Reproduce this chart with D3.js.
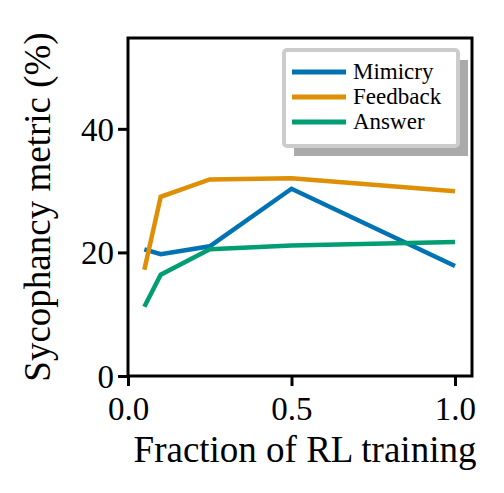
<!DOCTYPE html><html><head><meta charset="utf-8">
<script src="https://cdn.jsdelivr.net/npm/d3@7"></script>
<style>body{margin:0;background:#fff}text{font-family:"Liberation Serif",serif}</style></head><body>
<svg id="c" width="504" height="493"></svg>
<script>
const xs=[0.05,0.1,0.25,0.5,1.0];
const mimicry=[20.5,19.7,21.0,30.3,17.8];
const feedback=[17.2,29.0,31.8,32.0,29.9];
const answer=[11.2,16.4,20.5,21.1,21.7];
const names=["Mimicry","Feedback","Answer"];
const colors=["#0173b2","#de8f05","#029e73"];
const xTicks=[0,0.5,1.0], yTicks=[0,20,40];
const svg=d3.select("#c");
const L=128,R=472,T=38,B=376;
const x=d3.scaleLinear().domain([0,1.052]).range([L,R]);
const y=d3.scaleLinear().domain([0,54.7]).range([B,T]);
const g=svg.append("g");
const line=d3.line().x((d,i)=>x(xs[i])).y(d=>y(d));
[mimicry,feedback,answer].forEach((s,k)=>g.append("path").attr("d",line(s)).attr("fill","none").attr("stroke",colors[k]).attr("stroke-width",4.5));
g.append("rect").attr("x",L).attr("y",T).attr("width",R-L).attr("height",B-T).attr("fill","none").attr("stroke","#000").attr("stroke-width",3);
const xa=svg.append("g").attr("transform",`translate(0,${B})`).call(d3.axisBottom(x).tickValues(xTicks).tickFormat(d3.format(".1f")).tickSize(10).tickSizeOuter(0));
const ya=svg.append("g").attr("transform",`translate(${L},0)`).call(d3.axisLeft(y).tickValues(yTicks).tickSize(10).tickSizeOuter(0));
[xa,ya].forEach(a=>{a.attr("font-size",null).attr("font-family",null);a.select(".domain").remove();a.selectAll("line").attr("stroke-width",3);a.selectAll("text").style("font-size","33px").style("font-family","Liberation Serif");});
xa.selectAll("text").attr("y",14).attr("dy","0.9em");
ya.selectAll("text").attr("x",-14).attr("dy","0.35em");
svg.append("text").attr("x",(L+R)/2+5).attr("y",462).attr("text-anchor","middle").style("font-size","37px").text("Fraction of RL training");
svg.append("text").attr("transform",`translate(50,${(T+B)/2}) rotate(-90)`).attr("text-anchor","middle").style("font-size","37px").text("Sycophancy metric (%)");
// legend
svg.append("rect").attr("x",294).attr("y",60).attr("width",174).attr("height",96).attr("fill","#aaa");
svg.append("rect").attr("x",284).attr("y",50).attr("width",174).attr("height",96).attr("fill","#fff").attr("stroke","#ccc").attr("stroke-width",4).attr("rx",3);
names.forEach((n,i)=>{const yy=72+i*25;
svg.append("line").attr("x1",292).attr("x2",346).attr("y1",yy).attr("y2",yy).attr("stroke",colors[i]).attr("stroke-width",5);
svg.append("text").attr("x",353).attr("y",yy+7).style("font-size","23px").text(n);});
</script></body></html>
